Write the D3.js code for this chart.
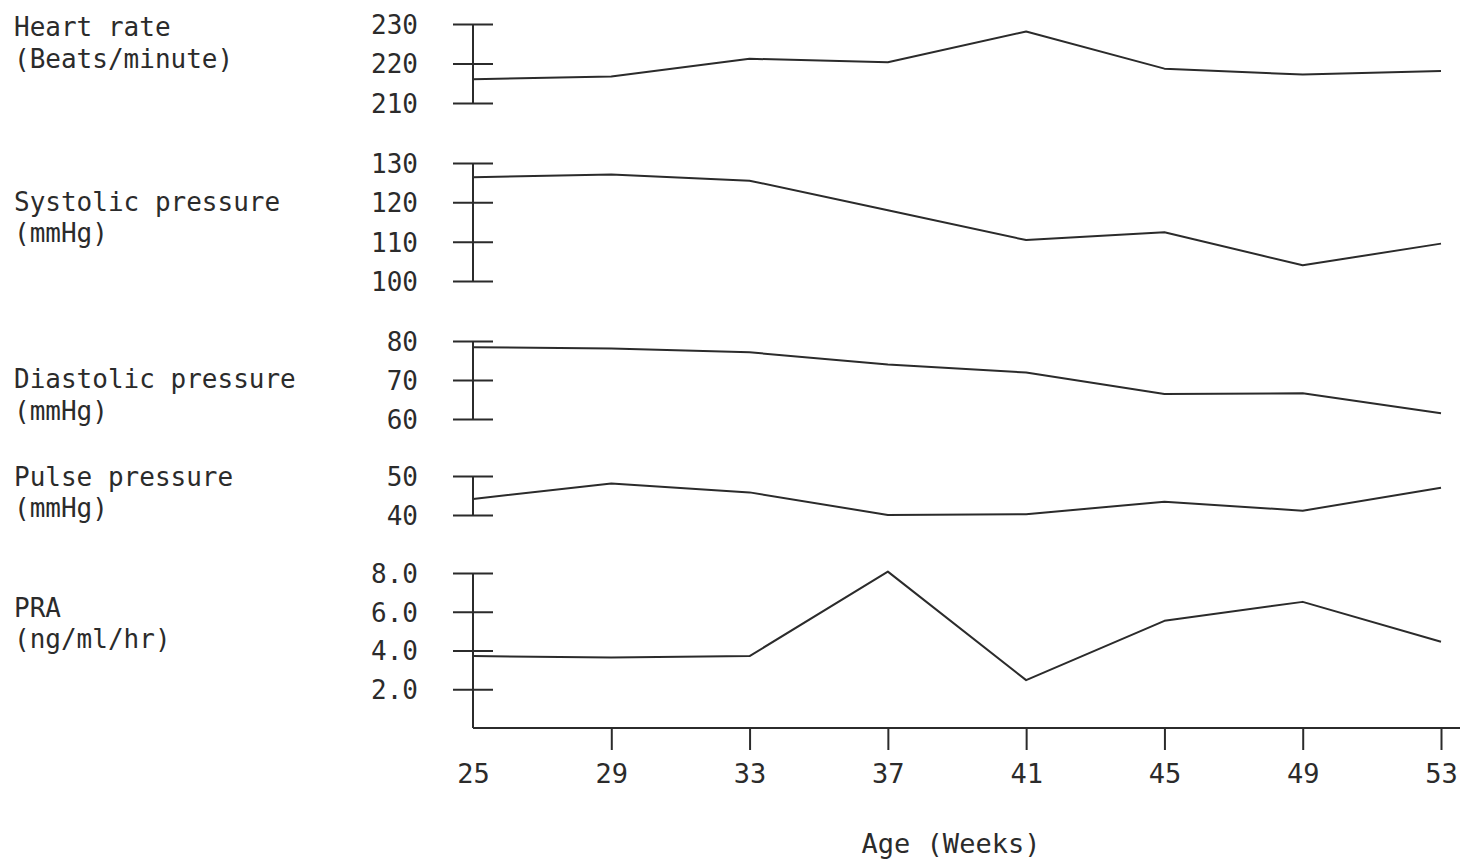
<!DOCTYPE html>
<html>
<head>
<meta charset="utf-8">
<script src="https://cdn.jsdelivr.net/npm/d3@7"></script>
<style>
  body { margin: 0; background: #fff; }
  svg text { font-family: "DejaVu Sans Mono", "Liberation Mono", monospace; fill: #2b2b2b; }
  .axis path, .axis line { stroke: #2b2b2b; stroke-width: 2; }
  .series { fill: none; stroke: #2b2b2b; stroke-width: 2; stroke-linejoin: round; }
</style>
</head>
<body>
<div id="chart"></div>
<script>
// age in weeks
const weeks = [25, 29, 33, 37, 41, 45, 49, 53];

// series
const heartRate     = [216.0, 216.7, 221.2, 220.3, 228.1, 218.7, 217.2, 218.1];
const systolic      = [126.4, 127.1, 125.5, 118.0, 110.4, 112.4, 104.0, 109.5];
const diastolic     = [78.4, 78.1, 77.1, 74.0, 71.9, 66.4, 66.6, 61.5];
const pulsePressure = [44.1, 48.1, 45.8, 40.0, 40.2, 43.4, 41.1, 47.0];
const pra           = [3.71, 3.64, 3.71, 8.07, 2.47, 5.53, 6.51, 4.45];

// tick labels for each panel
const heartTicks     = [210, 220, 230];
const systolicTicks  = [100, 110, 120, 130];
const diastolicTicks = [60, 70, 80];
const pulseTicks     = [40, 50];
const praTicks       = [2, 4, 6, 8];
const xTicks         = [25, 29, 33, 37, 41, 45, 49, 53];

const panelTitles = [
  ["Heart rate", "(Beats/minute)"],
  ["Systolic pressure", "(mmHg)"],
  ["Diastolic pressure", "(mmHg)"],
  ["Pulse pressure", "(mmHg)"],
  ["PRA", "(ng/ml/hr)"]
];

const width = 1467, height = 864;
const axisX = 473, rightX = 1441;

const svg = d3.select('#chart').append('svg')
  .attr('width', width)
  .attr('height', height);

const x = d3.scaleLinear().domain([25, 53]).range([axisX, rightX]);

// panel layout: domain, pixel extent, title baselines
const panels = [
  { values: heartRate, ticks: heartTicks, domain: [210, 230], range: [103, 24], fmt: d3.format('d'), titleY: [36, 68] },
  { values: systolic, ticks: systolicTicks, domain: [100, 130], range: [281, 163], fmt: d3.format('d'), titleY: [211, 242] },
  { values: diastolic, ticks: diastolicTicks, domain: [60, 80], range: [419, 341], fmt: d3.format('d'), titleY: [388, 420] },
  { values: pulsePressure, ticks: pulseTicks, domain: [40, 50], range: [515, 476], fmt: d3.format('d'), titleY: [486, 517] },
  { values: pra, ticks: praTicks, domain: [0, 8], range: [728, 573], fmt: d3.format('.1f'), titleY: [617, 648] }
];

panels.forEach((p, i) => {
  const y = d3.scaleLinear().domain(p.domain).range(p.range);

  const axis = svg.append('g')
    .attr('class', 'axis')
    .attr('transform', `translate(${axisX},0)`)
    .call(d3.axisLeft(y).tickValues(p.ticks).tickFormat(p.fmt)
      .tickSizeInner(20).tickSizeOuter(0).tickPadding(35));

  // ticks cross the axis on both sides
  axis.selectAll('.tick line').attr('x1', -20).attr('x2', 20);
  axis.selectAll('.tick text')
    .style('font-size', '26px')
    .attr('dy', '0.36em');
  axis.select('.domain').attr('d', `M0,${p.range[0]}V${p.range[1]}`);

  const line = d3.line()
    .x((d, j) => x(weeks[j]))
    .y(d => y(d));

  svg.append('path')
    .datum(p.values)
    .attr('class', 'series')
    .attr('stroke-width', i === 4 ? 2.5 : 2)
    .attr('d', line);

  const t = svg.append('text')
    .attr('x', 14)
    .style('font-size', '26px');
  panelTitles[i].forEach((s, k) => {
    t.append('tspan').attr('x', 14).attr('y', p.titleY[k]).text(s);
  });
});

// x axis along the PRA baseline
const xAxis = svg.append('g')
  .attr('class', 'axis')
  .attr('transform', 'translate(0,728)')
  .call(d3.axisBottom(x).tickValues(xTicks).tickSizeInner(22).tickSizeOuter(0).tickPadding(14));
xAxis.select('.domain').attr('d', `M${axisX},0H1460`);
xAxis.selectAll('.tick text').style('font-size', '27px');
// no tick mark under the origin
xAxis.selectAll('.tick').filter(d => d === 25).select('line').remove();

svg.append('text')
  .attr('x', 951)
  .attr('y', 853)
  .attr('text-anchor', 'middle')
  .style('font-size', '27px')
  .text('Age (Weeks)');
</script>
</body>
</html>
